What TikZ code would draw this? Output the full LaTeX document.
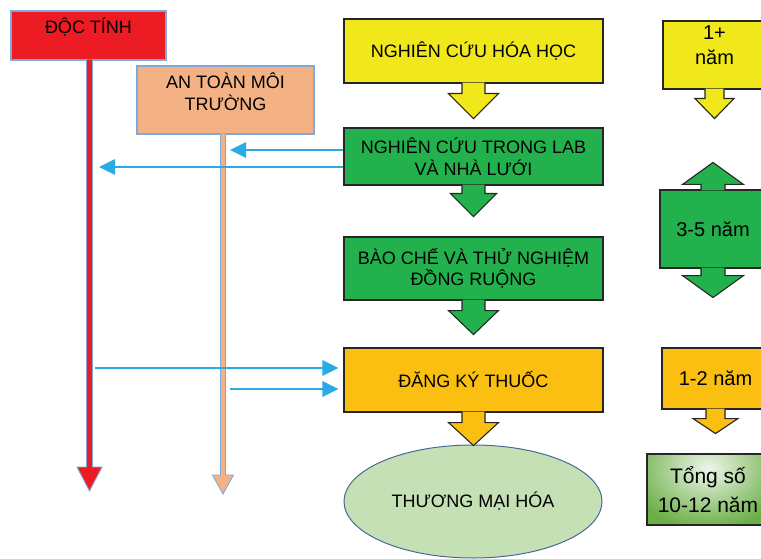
\documentclass[tikz,border=0pt]{standalone}
\usepackage{fontspec}
\setmainfont{Liberation Sans}
\usetikzlibrary{calc,arrows.meta,shapes.geometric}
\definecolor{cred}{HTML}{ED1C24}
\definecolor{outl}{HTML}{7EA9DA}
\definecolor{cpeach}{HTML}{F4B183}
\definecolor{cyell}{HTML}{F0E81A}
\definecolor{cgreen}{HTML}{22B14C}
\definecolor{corange}{HTML}{FBBF12}
\definecolor{cellipse}{HTML}{C5E0B4}
\definecolor{elledge}{HTML}{4A6A96}
\definecolor{cblue}{HTML}{2AABE4}
\definecolor{boxedge}{HTML}{262626}
\definecolor{ctotal}{HTML}{6AAE45}
\newcommand\downcallout[6]{%
 \filldraw[fill=#2, draw=boxedge, line width=1.1pt, line join=miter]
  ($(#1.south)+(-#3,-1)$) -- ++(0,#4+1) -- ++(#3-#5,0) -- ++(#5,#6) -- ++(#5,-#6) -- ++(#3-#5,0) -- ++(0,-#4-1);}
\newcommand\upcallout[6]{%
 \filldraw[fill=#2, draw=boxedge, line width=1.1pt, line join=miter]
  ($(#1.north)+(-#3,1)$) -- ++(0,-#4-1) -- ++(#3-#5,0) -- ++(#5,-#6) -- ++(#5,#6) -- ++(#3-#5,0) -- ++(0,#4+1);}
\begin{document}
\begin{tikzpicture}[x=1pt,y=-1pt,
  box/.style={draw=boxedge, line width=1.1pt, inner sep=0pt, align=center, text=black,
    font=\fontsize{18}{21.5}\selectfont},
  rbox/.style={box, font=\fontsize{20}{25}\selectfont},
  lbox/.style={draw=outl, line width=1.3pt, inner sep=0pt, align=center, text=black,
    font=\fontsize{18}{22}\selectfont},
  conn/.style={draw=cblue, line width=2.8pt, -{Triangle[length=16pt,width=15pt]}},
  shaft/.style={draw=outl, line width=0.9pt, line join=miter}]
\useasboundingbox (0,0) rectangle (761,559);
\clip (0,0) rectangle (761,559);

% left column
\node[lbox, fill=cred, minimum width=155pt, text height=22.5pt, text depth=26.5pt] (doc) at (88.5,35.5) {ĐỘC TÍNH};
\node[lbox, fill=cpeach, minimum width=177pt, text height=44.5pt, text depth=23.5pt] (env) at (225.5,100) {AN TOÀN MÔI\\TRƯỜNG};
\coordinate (docend) at (89.5,491);
\coordinate (envend) at (223,494);
\filldraw[shaft, fill=cred] ($(doc.south -| docend)+(-3,-1)$) -- ($(docend)+(-3,-24)$) -- ($(docend)+(-12.5,-24)$) -- (docend) -- ($(docend)+(12.5,-24)$) -- ($(docend)+(3,-24)$) -- ($(doc.south -| docend)+(3,-1)$);
\filldraw[shaft, fill=cpeach] ($(env.south -| envend)+(-2.5,-1)$) -- ($(envend)+(-2.5,-19)$) -- ($(envend)+(-10.5,-19)$) -- (envend) -- ($(envend)+(10.5,-19)$) -- ($(envend)+(2.5,-19)$) -- ($(env.south -| envend)+(2.5,-1)$);

% main column
\node[box, fill=cyell, minimum width=259pt, minimum height=64pt] (chem) at (473.5,51) {NGHIÊN CỨU HÓA HỌC};
\downcallout{chem}{cyell}{11.5}{10}{25}{25}
\node[box, fill=cgreen, minimum width=259pt, minimum height=57pt] (lab) at (473.5,156.5) {NGHIÊN CỨU TRONG LAB\\VÀ NHÀ LƯỚI};
\downcallout{lab}{cgreen}{11.5}{8}{23}{23}
\node[box, fill=cgreen, minimum width=259pt, minimum height=63pt] (field) at (473.5,268.5) {BÀO CHẾ VÀ THỬ NGHIỆM\\ĐỒNG RUỘNG};
\downcallout{field}{cgreen}{11.5}{10}{25}{24}
\node[box, fill=corange, minimum width=259pt, minimum height=64pt] (reg) at (473.5,380) {ĐĂNG KÝ THUỐC};
\node[ellipse, draw=elledge, line width=1pt, fill=cellipse, inner sep=0pt, minimum width=258pt, minimum height=113pt,
  font=\fontsize{18}{21.5}\selectfont] (comm) at (473,501.5) {THƯƠNG MẠI HÓA};
\downcallout{reg}{corange}{11.5}{10}{25}{23}

% right column
\node[rbox, fill=cyell, minimum width=103pt, text height=44pt, text depth=24pt] (yr1) at (714.5,55) {1+\\năm};
\downcallout{yr1}{cyell}{9.5}{9}{19.5}{20}
\node[rbox, fill=cgreen, minimum width=106pt, minimum height=78pt] (yr35) at (713,229) {3-5 năm};
\upcallout{yr35}{cgreen}{12}{5}{30.5}{22}
\downcallout{yr35}{cgreen}{12}{7}{30.5}{22}
\node[rbox, fill=corange, minimum width=107pt, minimum height=61pt] (yr12) at (715.5,378.5) {1-2 năm};
\downcallout{yr12}{corange}{9.5}{9}{22.5}{15}
\node[rbox, fill=ctotal, minimum width=122pt, minimum height=71pt, font=\fontsize{21}{28.5}\selectfont,
  path picture={\shade[inner color=ctotal!12, outer color=ctotal] ($(path picture bounding box.north)+(0,14)$) ellipse (80pt and 62pt);}]
  (total) at (708,489.5) {Tổng số\\10-12 năm};

% connectors
\coordinate (e1) at (230,150);
\coordinate (e2) at (99,167);
\coordinate (s3) at (95,368);
\coordinate (s4) at (230,389);
\draw[conn] (lab.west |- e1) -- (e1);
\draw[conn] (lab.west |- e2) -- (e2);
\draw[conn, shorten >=5pt] (s3) -- (reg.west |- s3);
\draw[conn, shorten >=5pt] (s4) -- (reg.west |- s4);
\end{tikzpicture}
\end{document}
